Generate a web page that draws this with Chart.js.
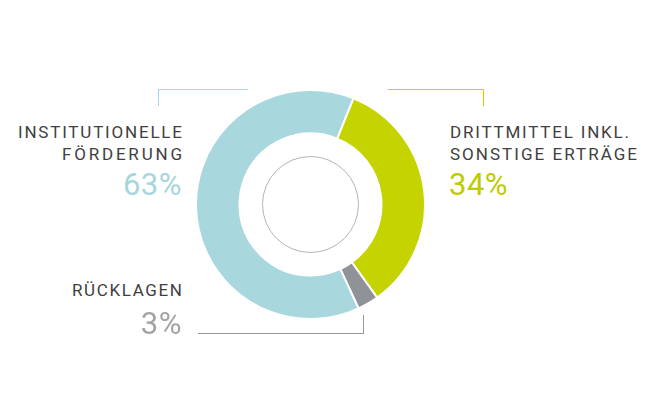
<!DOCTYPE html>
<html>
<head>
<meta charset="utf-8">
<script src="https://cdn.jsdelivr.net/npm/chart.js@4"></script>
<style>
  body { margin: 0; width: 659px; height: 419px; background: #fff; position: relative; overflow: hidden;
         font-family: Roboto, sans-serif; }
  #wrap { position: absolute; left: 195px; top: 89px; width: 231px; height: 231px; }
  .lbl { position: absolute; color: #404040; font-size: 17px; line-height: 17px; font-weight: 400; white-space: nowrap; }
  .pct { position: absolute; font-size: 31px; line-height: 31px; font-weight: 400; white-space: nowrap; letter-spacing: 0.5px; }
  .ln { position: absolute; }
</style>
</head>
<body>
<div id="wrap"><canvas id="donut"></canvas></div>

<div class="ln" style="left:158px;top:89px;width:89px;height:16px;border-top:1px solid #a8d8de;border-left:1px solid #a8d8de;"></div>
<div class="ln" style="left:388px;top:89px;width:95px;height:16px;border-top:1px solid #c5d300;border-right:1px solid #c5d300;"></div>
<div class="ln" style="left:198px;top:315px;width:165px;height:18px;border-bottom:1px solid #999;border-right:1px solid #999;"></div>

<div class="lbl fit" data-w="164" style="right:477px;top:124px;">INSTITUTIONELLE</div>
<div class="lbl fit" data-w="120" style="right:477px;top:146px;">FÖRDERUNG</div>
<div class="pct" id="p0" style="right:477px;top:169px;color:#a5d6dc;"></div>

<div class="lbl fit" data-w="179" style="left:450px;top:124px;">DRITTMITTEL INKL.</div>
<div class="lbl fit" data-w="187" style="left:450px;top:146px;">SONSTIGE ERTRÄGE</div>
<div class="pct" id="p1" style="left:449px;top:169px;color:#bccc00;"></div>

<div class="lbl fit" data-w="110" style="right:477px;top:282px;">RÜCKLAGEN</div>
<div class="pct" id="p2" style="right:477px;top:308px;color:#a3a3a3;"></div>

<script>
// data
const categories = ['Drittmittel inkl. sonstige Erträge', 'Rücklagen', 'Institutionelle Förderung'];
const shares = [34, 3, 63];
const colors = ['#c5d300', '#8f9297', '#a8d8de'];

document.getElementById('p1').textContent = shares[0] + '%';
document.getElementById('p2').textContent = shares[1] + '%';
document.getElementById('p0').textContent = shares[2] + '%';

// spread the caps labels to the widths of the reference
document.querySelectorAll('.fit').forEach(el => {
    const natural = el.getBoundingClientRect().width;
    const n = el.textContent.length;
    const ls = (Number(el.dataset.w) - natural) / (n - 1);
    el.style.letterSpacing = ls + 'px';
    if (el.style.right) el.style.marginRight = (-ls) + 'px';
});

// thin grey ring in the hole
const innerRing = {
    id: 'innerRing',
    afterDraw(chart) {
        const meta = chart.getDatasetMeta(0).data[0];
        const c = chart.ctx;
        c.save();
        c.beginPath();
        c.arc(meta.x, meta.y, 48, 0, Math.PI * 2);
        c.strokeStyle = '#b4b4b4';
        c.lineWidth = 1;
        c.stroke();
        c.restore();
    }
};

new Chart(document.getElementById('donut'), {
    type: 'doughnut',
    data: {
        labels: categories,
        datasets: [{
            data: shares,
            backgroundColor: colors,
            borderColor: '#ffffff',
            borderWidth: 2
        }]
    },
    options: {
        responsive: true,
        maintainAspectRatio: false,
        animation: false,
        cutout: '62%',
        rotation: 22,
        plugins: { legend: { display: false }, tooltip: { enabled: false } }
    },
    plugins: [innerRing]
});
</script>
</body>
</html>
